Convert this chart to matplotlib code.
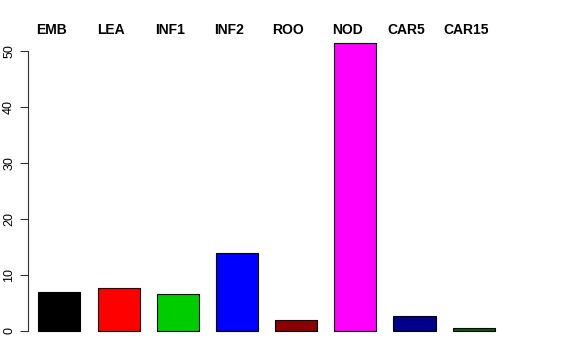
import matplotlib
matplotlib.use('Agg')
import matplotlib.pyplot as plt
import matplotlib.transforms as mtransforms

# tissue groups and their values
tissues = ['EMB', 'LEA', 'INF1', 'INF2', 'ROO', 'NOD', 'CAR5', 'CAR15']
values = [6.9, 7.63, 6.6, 13.8, 1.9, 51.4, 2.6, 0.45]
colors = ['#000000', '#FF0000', '#00CD00', '#0000FF', '#8B0000', '#FF00FF', '#00008B', '#006400']
yticks = [0, 10, 20, 30, 40, 50]

plt.rcParams['font.family'] = ['Liberation Sans', 'DejaVu Sans']

fig = plt.figure(figsize=(5.76, 3.6), dpi=100)
ax = fig.add_axes([28.3 / 576, 17 / 360, 531.7 / 576, 312 / 360])

x = list(range(len(tissues)))
ax.bar(x, values, width=0.71, color=colors, edgecolor='black', linewidth=0.8)

ax.set_xlim(-0.527, 8.459)
ax.set_ylim(-2.2, 53.52)

for s in ['top', 'right', 'bottom']:
    ax.spines[s].set_visible(False)
ax.spines['left'].set_bounds(0, 50)
ax.spines['left'].set_linewidth(0.8)
ax.spines['left'].set_color('#333333')

ax.set_xticks([])
ax.set_yticks(yticks)
ax.set_yticklabels([str(t) for t in yticks], rotation=90, va='center', fontsize=9)
ax.tick_params(axis='y', length=5.5, width=0.8, color='#333333', pad=4)

# group names along the top, sitting slightly left of each bar as in the original
trans = mtransforms.blended_transform_factory(ax.transData, fig.transFigure)
for i, name in enumerate(tissues):
    ax.text(i - 0.132, 1 - 29.5 / 360, name, transform=trans, ha='center', va='center',
            fontsize=10, fontweight='bold')

fig.savefig('out.png', dpi=100)
